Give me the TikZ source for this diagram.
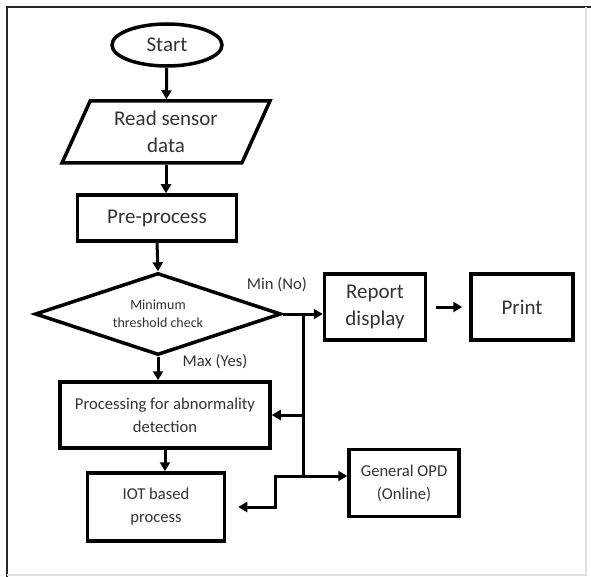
\documentclass[tikz,border=0pt]{standalone}
\usepackage{fontspec}
\setmainfont{Carlito}
\usetikzlibrary{shapes.geometric,arrows.meta}

\begin{document}
\begin{tikzpicture}[x=1pt,y=-1pt,
    every node/.style={align=center,text=black!80,inner sep=0pt},
    blk/.style={draw=black,line width=3.5,rectangle},
    bigtxt/.style={font=\fontsize{21}{27}\selectfont},
    midtxt/.style={font=\fontsize{16.6}{23}\selectfont},
    smltxt/.style={font=\fontsize{14}{18}\selectfont},
    >={Triangle[length=9,width=10]},
    line width=3]
        \useasboundingbox (0,0) rectangle (591,577);
        % frame
        \draw[line width=2,black!85] (7,577) -- (7,7) -- (591,7);
        \draw[line width=1.2,black!12] (586,7) -- (586,575) -- (7,575);

        \node[draw=black,line width=3.5,ellipse,minimum width=110,minimum height=42,bigtxt] (start) at (167,45) {Start};
        \node[draw=black,line width=3.5,trapezium,trapezium left angle=56,trapezium right angle=124,
              trapezium stretches body,minimum width=208,minimum height=62,bigtxt] (read) at (166,132) {Read sensor\\data};
        \node[blk,minimum width=159,minimum height=46,bigtxt] (pre) at (157,218) {Pre-process};
        \node[draw=black,line width=3.5,diamond,aspect=3,minimum width=246,minimum height=82,smltxt] (check) at (158,314) {Minimum\\threshold check};
        \node[blk,minimum width=101,minimum height=66,bigtxt] (report) at (375,307) {Report\\display};
        \node[blk,minimum width=102,minimum height=66,bigtxt] (print) at (522,307) {Print};
        \node[blk,minimum width=210,minimum height=66,midtxt] (proc) at (165,415) {Processing for abnormality\\detection};
        \node[blk,minimum width=137,minimum height=68,midtxt] (iot) at (156,507) {IOT based\\process};
        \node[blk,minimum width=110,minimum height=67,midtxt] (opd) at (404,483) {General OPD\\(Online)};

        \node[midtxt] (minlbl) at (277,285) {Min (No)};
        \node[midtxt] (maxlbl) at (215,362) {Max (Yes)};

        \coordinate (jn) at (303,314);
        \coordinate (jb) at (303,476);
        \coordinate (bend) at (275,476);

        \draw[->] (start) -- (read);
        \draw[->] (read.south) -- (read.south |- pre.north);
        \draw[->] (pre.south) -- (check.north);
        \draw[->] (check.south) -- (check.south |- proc.north);
        \draw[->] (proc.south) -- (proc.south |- iot.north);
        \draw[->] (check.east) -- (check.east -| report.west);
        \draw[->,shorten <=9,shorten >=7] (report) -- (print);
        \draw[-] (jn) -- (jb);
        \draw[->] (jn |- proc) -- (proc.east);
        \draw[->] (jb) -- (jb -| opd.west);
        \draw[->,shorten >=12] (jb) -- (bend) |- (iot.east);

    \end{tikzpicture}
\end{document}
